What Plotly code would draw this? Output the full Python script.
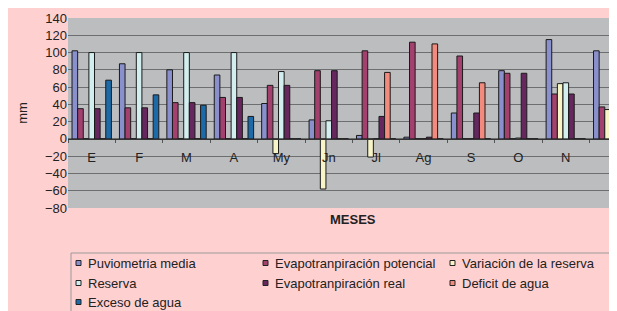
import plotly.graph_objects as go

months = ["E", "F", "M", "A", "My", "Jn", "Jl", "Ag", "S", "O", "N", "D"]

pluviometria = [102, 87, 80, 74, 41, 22, 4, 2, 30, 79, 115, 102]
evapo_potencial = [35, 36, 42, 48, 62, 79, 102, 112, 96, 76, 52, 37]
variacion_reserva = [0, 0, 0, 0, -17, -58, -21, 0, 0, 0, 64, 34]
reserva = [100, 100, 100, 100, 78, 21, 0, 0, 0, 1, 65, 99]
evapo_real = [35, 36, 42, 48, 62, 79, 26, 2, 30, 76, 52, 37]
deficit = [0, 0, 0, 0, 0, 0, 77, 110, 65, 0, 0, 0]
exceso = [68, 51, 39, 26, 0, 0, 0, 0, 0, 0, 0, 0]

series_names = ["Puviometria media", "Evapotranpiración potencial", "Variación de la reserva",
                "Reserva", "Evapotranpiración real", "Deficit de agua", "Exceso de agua"]
series_values = [pluviometria, evapo_potencial, variacion_reserva, reserva, evapo_real, deficit, exceso]
series_colors = ["#8a90cc", "#a3406e", "#f7f4c8", "#d3eeee", "#66275f", "#f28a7e", "#1c6aa8"]

OFF = 8
W, H = 617 - OFF, 311 - OFF
PLOT_L, PLOT_T, PLOT_B = 68, 18, 208          # in window pixels
ML, MR, MT = PLOT_L - OFF, 0, PLOT_T - OFF
MB = H - MT - (PLOT_B - PLOT_T)
PH = H - MT - MB
PW = W - ML - MR


def px_x(x):
    return (x - PLOT_L) / PW


def px_y(y):
    return (PLOT_B - y) / PH


font = "Liberation Sans, Arial, sans-serif"

fig = go.Figure()
for name, vals, col in zip(series_names, series_values, series_colors):
    fig.add_trace(go.Bar(
        x=months, y=vals, name=name, showlegend=False,
        marker=dict(color=col, line=dict(color="#1a1a1a", width=1)),
    ))

col_sym_x = [76, 263, 450]
row_y = [263, 283, 302]
shapes = [
    dict(type="rect", xref="paper", yref="paper",
         x0=px_x(71), x1=px_x(640), y0=px_y(253), y1=px_y(330),
         line=dict(color="#9a9a9a", width=1), fillcolor="rgba(0,0,0,0)", layer="above"),
]
annotations = [
    dict(text="<b>MESES</b>", xref="paper", yref="paper",
         x=px_x(353), y=px_y(229), showarrow=False,
         font=dict(size=13, color="#222")),
]
for i, (name, col) in enumerate(zip(series_names, series_colors)):
    r, c = divmod(i, 3)
    sx, sy = col_sym_x[c], row_y[r]
    shapes.append(dict(type="rect", xref="paper", yref="paper",
                       x0=px_x(sx), x1=px_x(sx + 5), y0=px_y(sy - 2.5), y1=px_y(sy + 2.5),
                       line=dict(color="#222", width=1), fillcolor=col, layer="above"))
    annotations.append(dict(text=name, xref="paper", yref="paper",
                            x=px_x(sx + 10), y=px_y(sy), xanchor="left", yanchor="middle",
                            showarrow=False, font=dict(size=13, color="#222")))

fig.update_layout(
    width=W, height=H,
    margin=dict(l=ML, r=MR, t=MT, b=MB, autoexpand=False),
    paper_bgcolor="#ffd0d0",
    plot_bgcolor="#bcbdbf",
    barmode="group", bargap=0.17, bargroupgap=0,
    font=dict(family=font, size=13, color="#222"),
    showlegend=False,
    xaxis=dict(
        range=[-0.5, 11.08], anchor="free", position=80 / 220,
        showline=True, linecolor="#333", linewidth=1,
        ticks="outside", tickson="boundaries", ticklen=3, tickcolor="#555",
        ticklabelstandoff=6, ticklabeloverflow="allow",
        showgrid=False, tickfont=dict(size=13, color="#222"),
    ),
    yaxis=dict(
        range=[-80, 140], dtick=20, tick0=0,
        showgrid=True, gridcolor="#6d6e70", gridwidth=1,
        zeroline=False, showline=False,
        tickfont=dict(size=13, color="#222"),
        title=dict(text="mm", font=dict(size=13, color="#222"), standoff=14),
    ),
    shapes=shapes,
    annotations=annotations,
)

fig.write_html("out.html")
